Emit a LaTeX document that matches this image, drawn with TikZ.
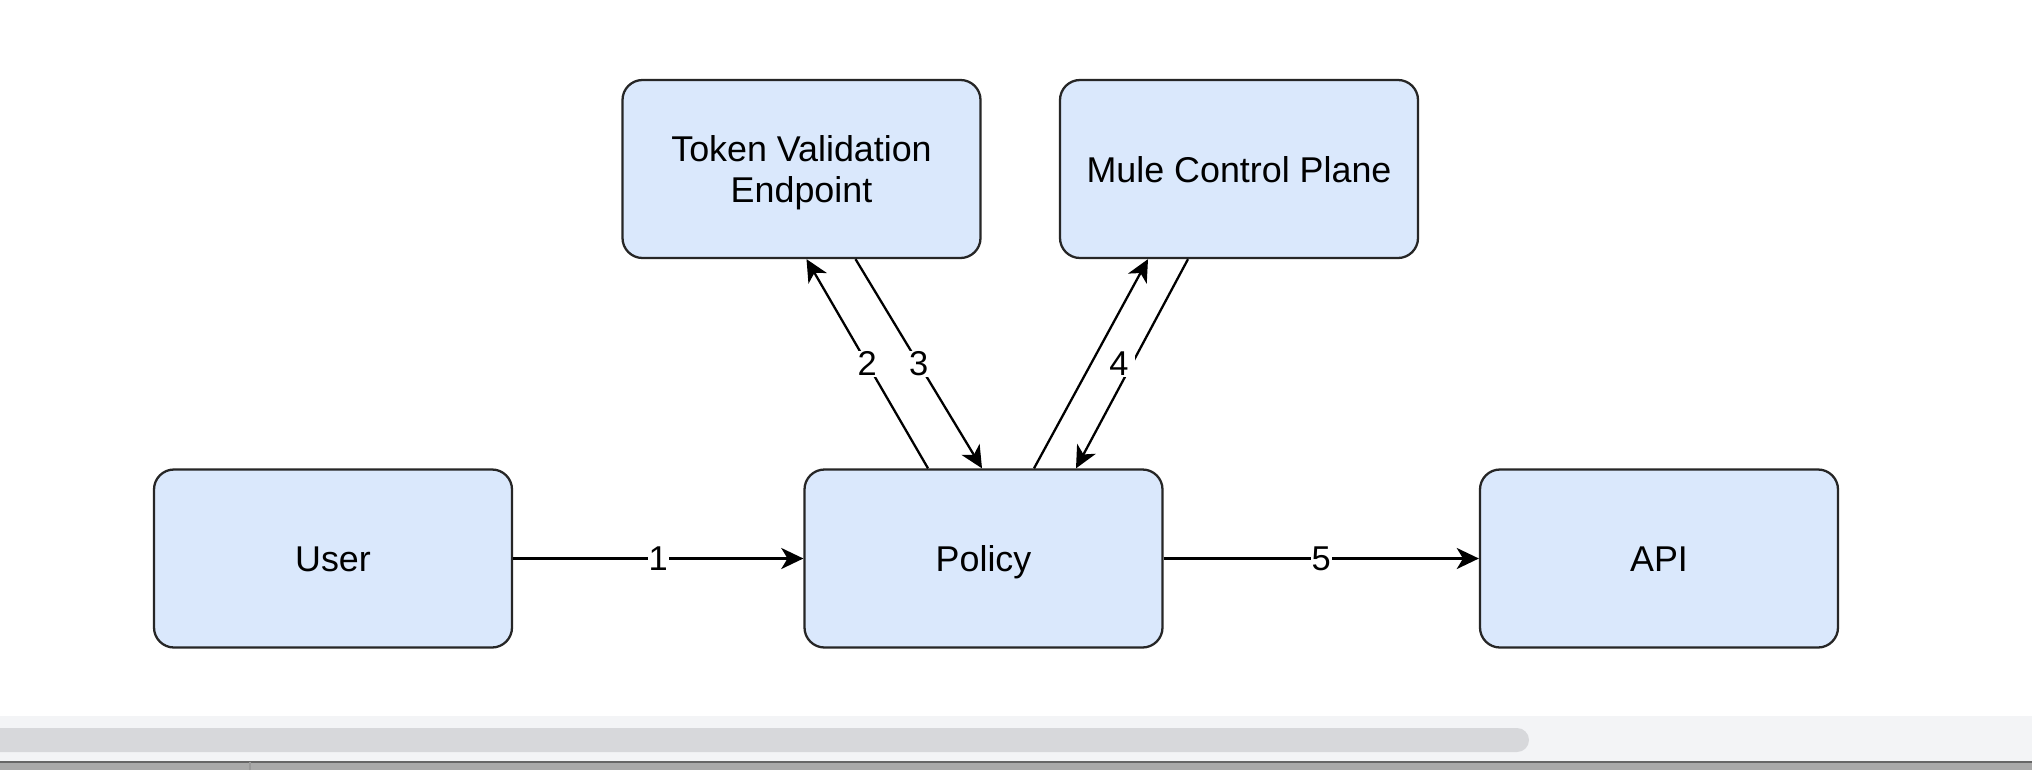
\documentclass[tikz,border=0pt]{standalone}
\usepackage{fontspec}
\setmainfont{Liberation Sans}
\usetikzlibrary{arrows.meta}

\definecolor{boxblue}{HTML}{DAE8FC}
\definecolor{barband}{HTML}{F3F4F6}
\definecolor{bargrey}{HTML}{D7D8DB}
\definecolor{dockgrey}{HTML}{A9A9A9}

\begin{document}
\begin{tikzpicture}[auto,
    component/.style ={rectangle, rounded corners=2mm, draw=black!85, fill=boxblue, line width=0.65pt,
                       minimum width=3.58cm, minimum height=1.78cm, align=center,
                       text height=1.9ex, text depth=0.45ex,
                       font=\fontsize{10.2}{11.8}\selectfont},
    steplabel/.style ={fill=white, inner sep=0.3pt, anchor=center, font=\fontsize{9.8}{11}\selectfont},
    flow/.style ={line width=0.65pt, -{Stealth[length=6.3pt,width=6pt,inset=1.8pt]}}]
   \useasboundingbox (0,0) rectangle (20.32,7.70);
   \fill[white] (0,0) rectangle (20.32,7.70);
   % window bottom
   \fill[barband] (0,0) rectangle (20.32,0.54);
   \fill[bargrey, rounded corners=1.2mm] (-0.3,0.18) rectangle (15.29,0.42);
   \fill[dockgrey] (0,0) rectangle (20.32,0.08);
   \draw[black!60, line width=0.5pt] (0,0.08) -- (20.32,0.08);
   \draw[black!40, line width=0.4pt] (2.50,0) -- (2.50,0.08);

   \node[component] (user)   at (3.33,2.115)  {User};
   \node[component] (policy) at (9.835,2.115) {Policy};
   \node[component] (api)    at (16.59,2.115) {API};
   \node[component, text height=, text depth=] (token) at (8.015,6.01) {\rule{0pt}{9.5pt}Token Validation\\Endpoint};
   \node[component] (mule)   at (12.39,6.01)  {Mule Control Plane};

   \draw[flow] (user) -- node[steplabel] {1} (policy);
   \draw[flow] ([xshift=-5.55mm]policy.north) -- node[steplabel] {2} ([xshift=0.5mm]token.south);
   \draw[flow] ([xshift=5.4mm]token.south) -- node[steplabel] {3} ([xshift=-0.15mm]policy.north);
   \draw[flow] ([xshift=5.05mm]policy.north) -- ([xshift=-9.1mm]mule.south);
   \draw[flow] ([xshift=-5.1mm]mule.south) -- node[steplabel, xshift=-1.3mm, inner xsep=1.8pt] {4} ([xshift=9.25mm]policy.north);
   \draw[flow] (policy) -- node[steplabel] {5} (api);
\end{tikzpicture}
\end{document}
